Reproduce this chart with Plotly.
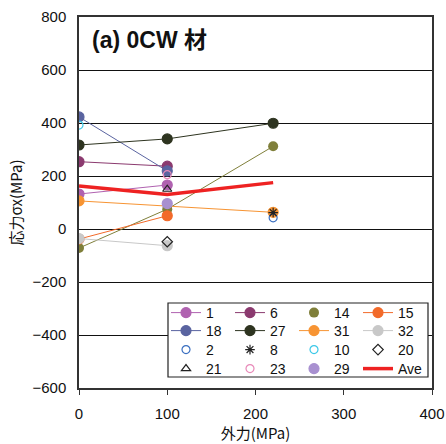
import plotly.graph_objects as go

x_vals = [0, 100, 220]
s1 = [132, 166, None]
s6 = [254, 237, None]
s14 = [-72, 75, 312]
s15 = [-38, 50, None]
s18 = [423, 219, None]
s27 = [317, 340, 399]
s31 = [106, None, 63]
s32 = [-36, -63, None]
s2 = [None, None, 42]
s8 = [None, None, 62]
s10 = [392, None, None]
s20 = [None, -48, None]
s21 = [None, 150, None]
s23 = [None, 205, None]
s29 = [None, 96, None]
ave = [162, 130, 175]

x_ticks = [0, 100, 200, 300, 400]
y_ticks = [-600, -400, -200, 0, 200, 400, 600, 800]

FONT = "Liberation Sans, Arial, Noto Sans CJK JP"
CJK = "Noto Sans CJK JP, Liberation Sans"

fig = go.Figure()

specs = [
    ("1", s1, "#B062B0", "circle", "lines+markers", "legend"),
    ("6", s6, "#8B3A6F", "circle", "lines+markers", "legend"),
    ("14", s14, "#7F7F3A", "circle", "lines+markers", "legend"),
    ("15", s15, "#F26A2A", "circle", "lines+markers", "legend"),
    ("18", s18, "#5A64A0", "circle", "lines+markers", "legend2"),
    ("27", s27, "#2E3420", "circle", "lines+markers", "legend2"),
    ("31", s31, "#F79433", "circle", "lines+markers", "legend2"),
    ("32", s32, "#C8C8C8", "circle", "lines+markers", "legend2"),
    ("2", s2, "#3A6FC0", "circle-open", "markers", "legend3"),
    ("8", s8, "#222222", "asterisk-open", "markers", "legend3"),
    ("10", s10, "#3CC8E8", "circle-open", "markers", "legend3"),
    ("20", s20, "#222222", "diamond-open", "markers", "legend3"),
    ("21", s21, "#222222", "triangle-up-open", "markers", "legend4"),
    ("23", s23, "#E888B8", "circle-open", "markers", "legend4"),
    ("29", s29, "#A890D0", "circle", "markers", "legend4"),
]

for name, data, color, sym, mode, leg in specs:
    if name == "14":
        fig.add_trace(go.Scatter(x=x_vals, y=data, mode=mode, name=name, showlegend=False,
                                 line=dict(color=color, width=1),
                                 marker=dict(color=color, size=10, symbol=sym)))
        fig.add_trace(go.Scatter(x=[None], y=[None], mode="markers", name=name, legend=leg,
                                 marker=dict(color=color, size=10, symbol=sym)))
        continue
    msize = 10 if sym == "circle" else 8
    fig.add_trace(go.Scatter(x=x_vals, y=data, mode=mode, name=name, legend=leg,
                             connectgaps=True,
                             line=dict(color=color, width=1),
                             marker=dict(color=color, size=msize, symbol=sym,
                                         line=dict(color=color, width=1.2))))

fig.add_trace(go.Scatter(x=x_vals, y=ave, mode="lines", name="Ave", legend="legend4",
                         line=dict(color="#EE2222", width=3.5)))

W, H = 446, 444
L, R, T, B = 79, 14, 17, 56
pw, ph = W - L - R, H - T - B

def px2x(p):
    return (p - L) / pw

def px2y(p):
    return (H - B - p) / ph

leg_common = dict(orientation="h", entrywidth=19, entrywidthmode="pixels",
                  bgcolor="rgba(0,0,0,0)", borderwidth=0, xanchor="left", yanchor="middle",
                  font=dict(family=FONT, size=14, color="#111"), tracegroupgap=0,
                  itemwidth=30)
rows_y = [313, 331, 350, 369]
leg_x = px2x(166)
fig.update_layout(
    legend=dict(leg_common, x=leg_x, y=px2y(rows_y[0])),
    legend2=dict(leg_common, x=leg_x, y=px2y(rows_y[1])),
    legend3=dict(leg_common, x=leg_x, y=px2y(rows_y[2])),
    legend4=dict(leg_common, x=leg_x, y=px2y(rows_y[3])),
)

fig.add_shape(type="rect", xref="paper", yref="paper",
              x0=px2x(168), x1=px2x(428), y0=px2y(377), y1=px2y(303),
              line=dict(color="#222", width=1.2), fillcolor="white", layer="above")

fig.add_annotation(text="<b>(a) 0CW 材</b>", xref="paper", yref="paper",
                   x=px2x(90), y=px2y(40), xanchor="left", yanchor="middle",
                   showarrow=False, font=dict(family=FONT, size=23, color="#111"))

fig.update_xaxes(range=[0, 400], tickvals=x_ticks, ticks="outside", ticklen=5,
                 tickcolor="#333", showgrid=False, zeroline=False, showline=True,
                 mirror=True, linecolor="#333", linewidth=1.5, ticklabelstandoff=6,
                 automargin=False,
                 tickfont=dict(family=FONT, size=15, color="#111"),
                 title=dict(text="外力(MPa)", font=dict(family=CJK, size=15, color="#111"),
                            standoff=6))
fig.update_yaxes(range=[-600, 800], tickvals=y_ticks, ticks="", showgrid=True,
                 gridcolor="#111", gridwidth=1, zeroline=False, showline=True,
                 mirror=True, linecolor="#333", linewidth=1.5, ticklabelstandoff=8,
                 automargin=False,
                 tickfont=dict(family=FONT, size=15, color="#111"),
                 title=dict(text="応力σx(MPa)", font=dict(family=CJK, size=15, color="#111"),
                            standoff=6))

fig.update_layout(width=W, height=H, margin=dict(l=L, r=R, t=T, b=B),
                  plot_bgcolor="white", paper_bgcolor="white", showlegend=True)

fig.write_html("out.html", config={"displayModeBar": False},
               post_script="document.body.style.margin='0';document.body.style.overflow='hidden';")
